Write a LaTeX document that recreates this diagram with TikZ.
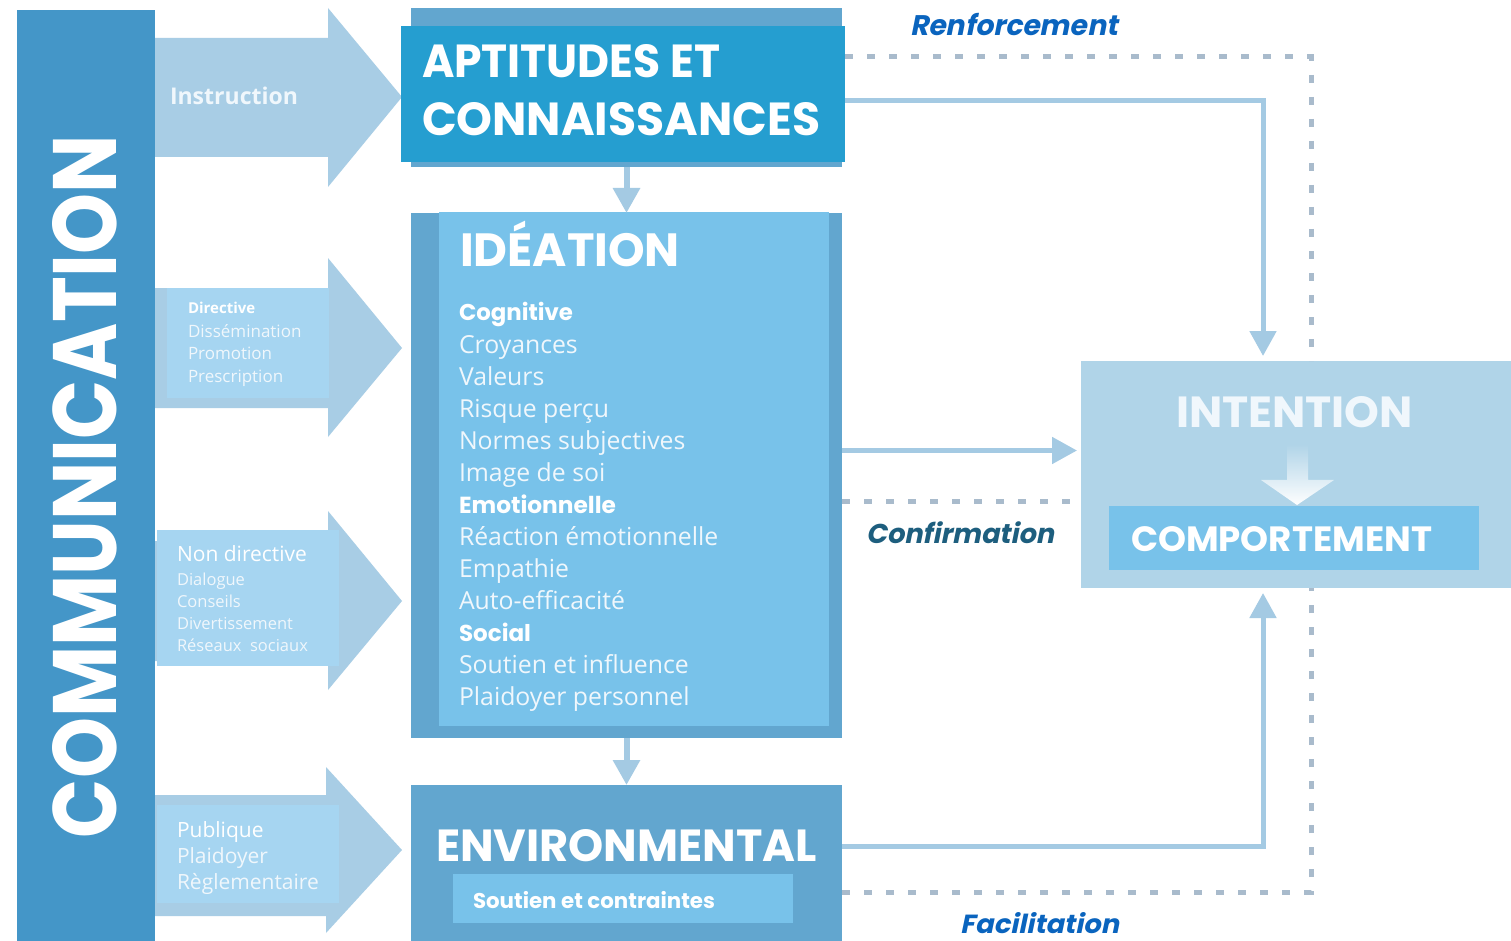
\documentclass[tikz,border=0pt]{standalone}
\usepackage{fontspec}
\setmainfont{Open Sans}
\newfontfamily\fut{Poppins}
\newfontfamily\futsl{Poppins}[FakeSlant=0.2]
\usetikzlibrary{arrows.meta,fadings}
\definecolor{commc}{HTML}{4496C8}
\definecolor{arrowc}{HTML}{A8CDE5}
\definecolor{arrowin}{HTML}{A6D5F1}
\definecolor{backc}{HTML}{62A6CF}
\definecolor{aptc}{HTML}{259ED0}
\definecolor{idec}{HTML}{78C2EA}
\definecolor{intc}{HTML}{B0D4E8}
\definecolor{linec}{HTML}{A4CAE3}
\definecolor{dotc}{HTML}{A9BBCC}
\definecolor{blueT}{HTML}{0A64BE}
\definecolor{tealT}{HTML}{1D5E7E}
\definecolor{softw}{HTML}{F0F7FC}
\begin{document}
\begin{tikzpicture}[x=1pt,y=-1pt,
  box/.style={draw=none, inner sep=0pt, outer sep=0pt, anchor=north west},
  lbl/.style={anchor=base west, inner sep=0pt, outer sep=0pt, text=white},
  thin/.style={lbl, text=softw},
  conn/.style={draw=linec, line width=5pt},
  tip/.style={-{Triangle[width=26pt,length=25pt]}},
  dotline/.style={draw=dotc, line width=5pt, dash pattern=on 8pt off 14pt},
  blockarrow/.style={fill=arrowc, draw=none},
  inrect/.style={fill=arrowin, draw=none},
  listf/.style={font=\fontsize{24.8}{24.8}\selectfont},
  smallf/.style={font=\fontsize{17}{17}\selectfont},
  tinyf/.style={font=\fontsize{16.5}{16.5}\selectfont},
  midf/.style={font=\fontsize{21}{21}\selectfont},
]
\useasboundingbox (0,0) rectangle (1511,941);
\fill[white] (0,0) rectangle (1511,941);

% communication bar
\node[box, fill=commc, minimum width=138pt, minimum height=931pt] (comm) at (17,10) {};

% block arrows
\fill[blockarrow] (155,38) -- (328,38) -- (328,8) -- (402,97) -- (328,187) -- (328,157) -- (155,157) -- cycle;
\fill[blockarrow] (155,288) -- (328,288) -- (328,258) -- (402,348) -- (328,437) -- (328,408) -- (155,408) -- cycle;
\fill[inrect] (167,288) rectangle (329,398);
\fill[blockarrow] (155,541) -- (328,541) -- (328,511) -- (402,601) -- (328,690) -- (328,661) -- (155,661) -- cycle;
\fill[inrect] (157,530) rectangle (339,666);
\fill[blockarrow] (155,795) -- (326,795) -- (326,767) -- (402,850) -- (326,933) -- (326,916) -- (155,916) -- cycle;
\fill[inrect] (157,805) rectangle (339,903);

% boxes
\node[box, fill=backc, minimum width=431pt, minimum height=159pt] (aptback) at (411,8) {};
\node[box, fill=aptc, minimum width=444pt, minimum height=136pt] (apt) at (401,26) {};
\node[box, fill=backc, minimum width=431pt, minimum height=525pt] (ideback) at (411,213) {};
\node[box, fill=idec, minimum width=390pt, minimum height=514pt] (ide) at (439,212) {};
\node[box, fill=backc, minimum width=431pt, minimum height=156pt] (env) at (411,785) {};
\node[box, fill=idec, minimum width=340pt, minimum height=49pt] (envin) at (453,874) {};
\node[box, fill=intc, minimum width=430pt, minimum height=227pt] (int) at (1081,361) {};
\node[box, fill=idec, minimum width=370pt, minimum height=64pt] (comp) at (1109,506) {};

% connectors
\draw[linec, line width=6pt, tip] (aptback.south) -- (ideback.north);
\draw[linec, line width=6pt, tip] (ideback.south) -- (env.north);
\draw[conn, tip, shorten >=5pt] ([yshift=-7pt]apt.east) -| ([xshift=-33pt]int.north);
\draw[conn, tip, shorten >=4pt] ([yshift=25pt]ideback.east) -- ([yshift=25pt]ideback.east -| int.west);
\draw[conn, tip, shorten >=5pt] ([yshift=17pt]env.east) -| ([xshift=-33pt]int.south);
\draw[dotline] ([yshift=37pt]apt.east) -| ([xshift=15pt]int.north);
\draw[dotline] ([yshift=-26pt]ideback.east) -- ([yshift=-26pt]ideback.east -| int.west);
\draw[dotline] ([yshift=-29pt]env.east) -| ([xshift=15pt]int.south);

% white arrow inside intention
\fill[white, path fading=north] (1287,444) -- (1308,444) -- (1308,480) -- (1334,480) -- (1297,505) -- (1261,480) -- (1287,480) -- cycle;

% big titles
\node[lbl, rotate=90] (tcomm) at (116,838) {\resizebox{703pt}{64pt}{\fut\bfseries COMMUNICATION}};
\node[lbl] (tapt1) at (422,78) {\resizebox{298pt}{33pt}{\fut\bfseries APTITUDES ET}};
\node[lbl] (tapt2) at (422,136) {\resizebox{398pt}{33pt}{\fut\bfseries CONNAISSANCES}};
\node[lbl] (tide) at (460,266) {\resizebox{220pt}{!}{\fontsize{48}{48}\selectfont\fut\bfseries IDÉATION}};
\node[lbl] (tenv) at (436,861) {\resizebox{381pt}{32pt}{\fut\bfseries ENVIRONMENTAL}};
\node[lbl] (tenvin) at (473,908) {\resizebox{242pt}{!}{\fontsize{20}{20}\selectfont\fut\bfseries Soutien et contraintes}};
\node[lbl, text=softw] (tint) at (1176,427) {\resizebox{237pt}{31pt}{\fut\bfseries INTENTION}};
\node[lbl] (tcomp) at (1131,551) {\resizebox{301pt}{25pt}{\fut\bfseries COMPORTEMENT}};

% side labels
\node[lbl, text=blueT] (tren) at (910,36) {\resizebox{208pt}{!}{\fontsize{26}{26}\selectfont\futsl\bfseries Renforcement}};
\node[lbl, text=tealT] (tconf) at (866,543) {\resizebox{188pt}{!}{\fontsize{26}{26}\selectfont\futsl\bfseries Confirmation}};
\node[lbl, text=blueT] (tfac) at (960,933) {\resizebox{159pt}{21pt}{\futsl\bfseries Facilitation}};

% ideation list
\node[lbl] (c0) at (459,320) {\resizebox{114pt}{!}{\fontsize{24}{24}\selectfont\fut\bfseries Cognitive}};
\node[thin, listf] (c1) at (459,353) {Croyances};
\node[thin, listf] (c2) at (459,385) {Valeurs};
\node[thin, listf] (c3) at (459,417) {Risque perçu};
\node[thin, listf] (c4) at (459,449) {Normes subjectives};
\node[thin, listf] (c5) at (459,481) {Image de soi};
\node[lbl] (e0) at (459,513) {\resizebox{157pt}{!}{\fontsize{24}{24}\selectfont\fut\bfseries Emotionnelle}};
\node[thin, listf] (e1) at (459,545) {Réaction émotionnelle};
\node[thin, listf] (e2) at (459,577) {Empathie};
\node[thin, listf] (e3) at (459,609) {Auto-efficacité};
\node[lbl] (s0) at (459,641) {\resizebox{72pt}{!}{\fontsize{24}{24}\selectfont\fut\bfseries Social}};
\node[thin, listf] (s1) at (459,673) {Soutien et influence};
\node[thin, listf] (s2) at (459,705) {Plaidoyer personnel};

% left arrow texts
\node[lbl, text=softw] (ti) at (170,105) {\resizebox{128pt}{!}{\fontsize{22}{22}\selectfont\bfseries Instruction}};
\node[lbl, font=\fontsize{15}{15}\selectfont\bfseries] (d0) at (188,313) {Directive};
\node[thin, smallf] (d1) at (188,337) {Dissémination};
\node[thin, smallf] (d2) at (188,359) {Promotion};
\node[thin, smallf] (d3) at (188,382) {Prescription};
\node[lbl, midf] (n0) at (177,561) {Non directive};
\node[thin, tinyf] (n1) at (177,585) {Dialogue};
\node[thin, tinyf] (n2) at (177,607) {Conseils};
\node[thin, tinyf] (n3) at (177,629) {Divertissement};
\node[thin, tinyf] (n4) at (177,651) {Réseaux\ \ sociaux};
\node[lbl, midf] (p0) at (177,837) {Publique};
\node[thin, midf] (p1) at (177,863) {Plaidoyer};
\node[thin, midf] (p2) at (177,889) {Règlementaire};
\end{tikzpicture}
\end{document}
